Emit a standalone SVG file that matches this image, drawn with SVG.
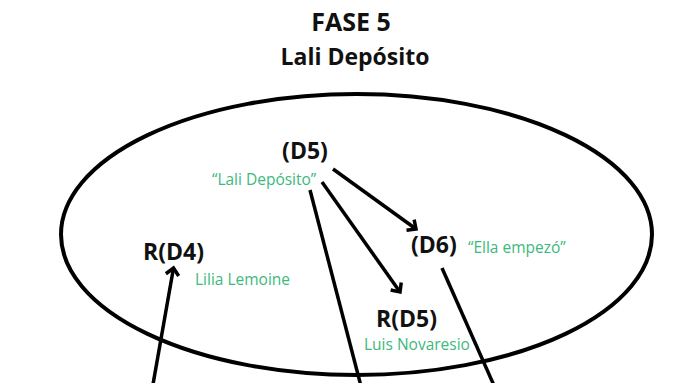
<svg xmlns="http://www.w3.org/2000/svg" width="675" height="383" viewBox="0 0 675 383">
<style>
.t{font-family:"Open Sans","Noto Sans",sans-serif;font-weight:700;fill:#111;font-size:23px}
.m{text-anchor:middle}
.g{font-family:"Open Sans","Noto Sans",sans-serif;font-weight:400;fill:#3cb97c;font-size:15.5px}
.c{stroke:#000;stroke-width:3.5;fill:none;stroke-linecap:butt}
</style>
<defs>
<marker id="ah" markerUnits="userSpaceOnUse" viewBox="0 0 16 16" refX="12" refY="8" markerWidth="16" markerHeight="16" orient="auto">
<path d="M5,1.5 L12,8 L5,14.5" fill="none" stroke="#000" stroke-width="3.5" stroke-linejoin="miter"/>
</marker>
</defs>
<rect width="675" height="383" fill="#fff"/>
<g id="title">
<text class="t m" x="351" y="31" style="font-size:25px">FASE 5</text>
<text class="t m" x="355" y="65" style="font-size:23px">Lali Depósito</text>
</g>
<g id="boundary">
<ellipse cx="356.5" cy="234.5" rx="295.5" ry="140.5" fill="none" stroke="#000" stroke-width="4"/>
</g>
<g id="connectors">
<line class="c" x1="333" y1="169" x2="416" y2="229" marker-end="url(#ah)"/>
<line class="c" x1="322" y1="182" x2="400" y2="292" marker-end="url(#ah)"/>
<line class="c" x1="310" y1="190" x2="362" y2="390"/>
<line class="c" x1="442" y1="268" x2="496" y2="390"/>
<line class="c" x1="152" y1="390" x2="173.5" y2="268" marker-end="url(#ah)"/>
</g>
<g id="D5">
<text class="t m" x="305" y="159">(D5)</text>
<text class="g" x="212" y="185">“Lali Depósito”</text>
</g>
<g id="RD4">
<text class="t" x="143" y="260">R(D4)</text>
<text class="g" x="195" y="285">Lilia Lemoine</text>
</g>
<g id="D6">
<text class="t" x="411" y="253">(D6)</text>
<text class="g" x="468" y="253">“Ella empezó”</text>
</g>
<g id="RD5">
<text class="t" x="376" y="327">R(D5)</text>
<text class="g" x="364" y="350">Luis Novaresio</text>
</g>
</svg>
